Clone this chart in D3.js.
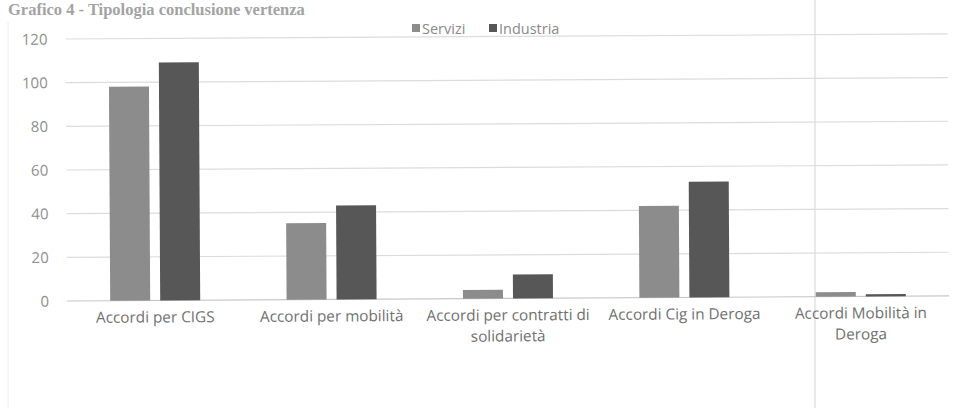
<!DOCTYPE html>
<html><head><meta charset="utf-8">
<script src="https://cdn.jsdelivr.net/npm/d3@7"></script>
<style>body{margin:0;background:#fff;}svg{display:block;}</style>
</head><body>
<svg id="c" width="959" height="408"></svg>
<script>
const categories = [["Accordi per CIGS"],["Accordi per mobilità"],["Accordi per contratti di","solidarietà"],["Accordi Cig in Deroga"],["Accordi Mobilità in","Deroga"]];
const seriesNames = ["Servizi","Industria"];
const servizi = [98, 35, 4, 42, 2];
const industria = [109, 43, 11, 53, 1];
const yTicks = [0,20,40,60,80,100,120];
const colors = ["#8c8c8c","#575757"];

(function(){
const svg = d3.select("#c");
svg.append("rect").attr("width",959).attr("height",408).attr("fill","#fff");
svg.append("line").attr("x1",8).attr("x2",8).attr("y1",22).attr("y2",408).attr("stroke","#ececec");
svg.append("line").attr("x1",815).attr("x2",815).attr("y1",0).attr("y2",408).attr("stroke","#d4d4d4");

svg.append("text").attr("x",8).attr("y",15).text("Grafico 4 - Tipologia conclusione vertenza")
  .attr("font-family","Liberation Serif").attr("font-weight","bold").attr("font-size",16.5).attr("fill","#a3a3a3");

const g = svg.append("g").attr("transform","rotate(-0.33,67,301)");
const pl=67, pr=949, pt=39, pb=301;
const x0 = d3.scaleBand().domain(d3.range(categories.length)).range([pl,pr]);
const x1 = d3.scaleBand().domain([0,1]).range([0,x0.bandwidth()]).paddingInner(0.2).paddingOuter(0.864);
const y = d3.scaleLinear().domain([0,120]).range([pb,pt]);

g.selectAll(".grid").data(yTicks).join("line").attr("x1",pl).attr("x2",pr)
  .attr("y1",d=>y(d)).attr("y2",d=>y(d)).attr("stroke",d=>d===0?"#c8c8c8":"#dcdcdc").attr("stroke-width",1.2);
g.selectAll(".yl").data(yTicks).join("text").attr("x",49).attr("y",d=>y(d)+5.5).attr("text-anchor","end")
  .text(d=>d).attr("font-family","Open Sans").attr("font-size",15).attr("fill","#8f8f8f");

[servizi,industria].forEach((s,si)=>{
  g.append("g").selectAll("rect").data(s).join("rect")
   .attr("x",(d,i)=>x0(i)+x1(si)).attr("width",x1.bandwidth())
   .attr("y",d=>y(d)).attr("height",d=>pb-y(d)).attr("fill",colors[si]);
});

categories.forEach((lines,i)=>{
  const t=g.append("text").attr("text-anchor","middle").attr("font-family","Open Sans").attr("font-size",15.3).attr("fill","#707070");
  lines.forEach((l,j)=>t.append("tspan").attr("x",x0(i)+x0.bandwidth()/2).attr("y",323+j*21).text(l));
});

const lx=[412,489];
seriesNames.forEach((n,i)=>{
  svg.append("rect").attr("x",lx[i]).attr("y",24).attr("width",8).attr("height",8).attr("fill",colors[i]);
  svg.append("text").attr("x",lx[i]+10).attr("y",33.5).text(n).attr("font-family","Open Sans").attr("font-size",14.5).attr("fill","#8a8a8a");
});
})();
</script>
</body></html>
